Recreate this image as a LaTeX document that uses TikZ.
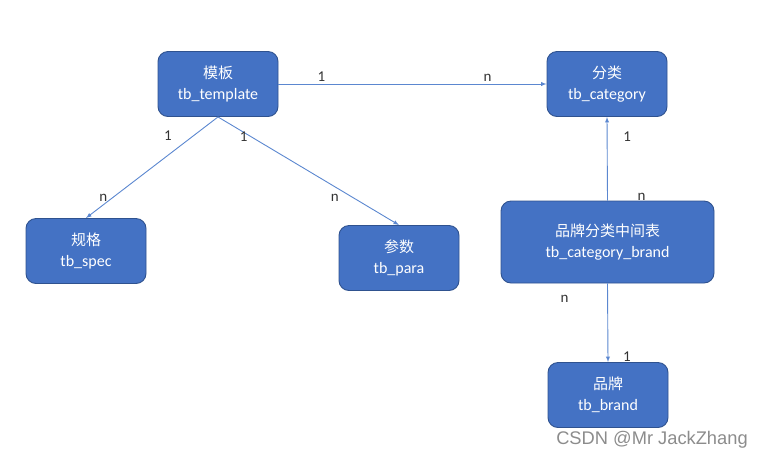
\documentclass[tikz,border=0pt]{standalone}
\usepackage{fontspec}
\setmainfont{Carlito}
\newfontfamily\cjk{Noto Sans CJK SC}
\newfontfamily\wmfont{Liberation Sans}
\definecolor{boxblue}{HTML}{4472C4}
\definecolor{boxedge}{HTML}{2F528F}
\definecolor{lineblue}{HTML}{5B87D0}

\begin{document}
\begin{tikzpicture}[x=1pt, y=-1pt, ->, >=latex, line width=0.9pt,
    entity/.style={rectangle, rounded corners=10pt, draw=boxedge, fill=boxblue, text=white,
      align=center, minimum width=120pt, minimum height=65pt, inner sep=0pt,
      font=\fontsize{16}{21}\selectfont},
    card/.style={font=\fontsize{15}{15}\selectfont, text=black!80, inner sep=0pt}]
  \useasboundingbox (0,0) rectangle (763,459);

  \node[entity] (tmpl) at (218,84) {{\cjk\fontsize{15}{21}\selectfont 模板}\\tb\_template};
  \node[entity] (cat) at (607,84) {{\cjk\fontsize{15}{21}\selectfont 分类}\\tb\_category};
  \node[entity] (spec) at (86,251) {{\cjk\fontsize{15}{21}\selectfont 规格}\\tb\_spec};
  \node[entity] (para) at (399,258) {{\cjk\fontsize{15}{21}\selectfont 参数}\\tb\_para};
  \node[entity, minimum width=213pt, minimum height=82pt] (catbrand) at (607.5,242) {{\cjk\fontsize{15}{21}\selectfont 品牌分类中间表}\\tb\_category\_brand};
  \node[entity] (brand) at (608,395) {{\cjk\fontsize{15}{21}\selectfont 品牌}\\tb\_brand};

  \draw[lineblue] (tmpl) -- node[card, pos=.16, above=2pt] {1} node[card, pos=.78, above=2pt] {n} (cat);
  \draw[lineblue] (tmpl.south) -- node[card, pos=.19, xshift=-25pt] {1} node[card, pos=.8, xshift=-9pt] {n} (spec.north);
  \draw[lineblue] (tmpl.south) -- node[card, pos=.18, xshift=-7pt] {1} node[card, pos=.745, xshift=-18pt] {n} (para.north);
  \draw[lineblue] (catbrand.north) -- node[card, pos=.76, xshift=20pt] {1} node[card, pos=.04, xshift=34pt] {n} (cat.south);
  \draw[lineblue] (catbrand.south) -- node[card, pos=.19, xshift=-43pt] {n} node[card, pos=.93, xshift=19pt] {1} (brand.north);

  \node[font=\wmfont\fontsize{18.3}{18.3}\selectfont, text=black!45, inner sep=0pt] (wm) at (652,440) {CSDN @Mr JackZhang};
\end{tikzpicture}
\end{document}
